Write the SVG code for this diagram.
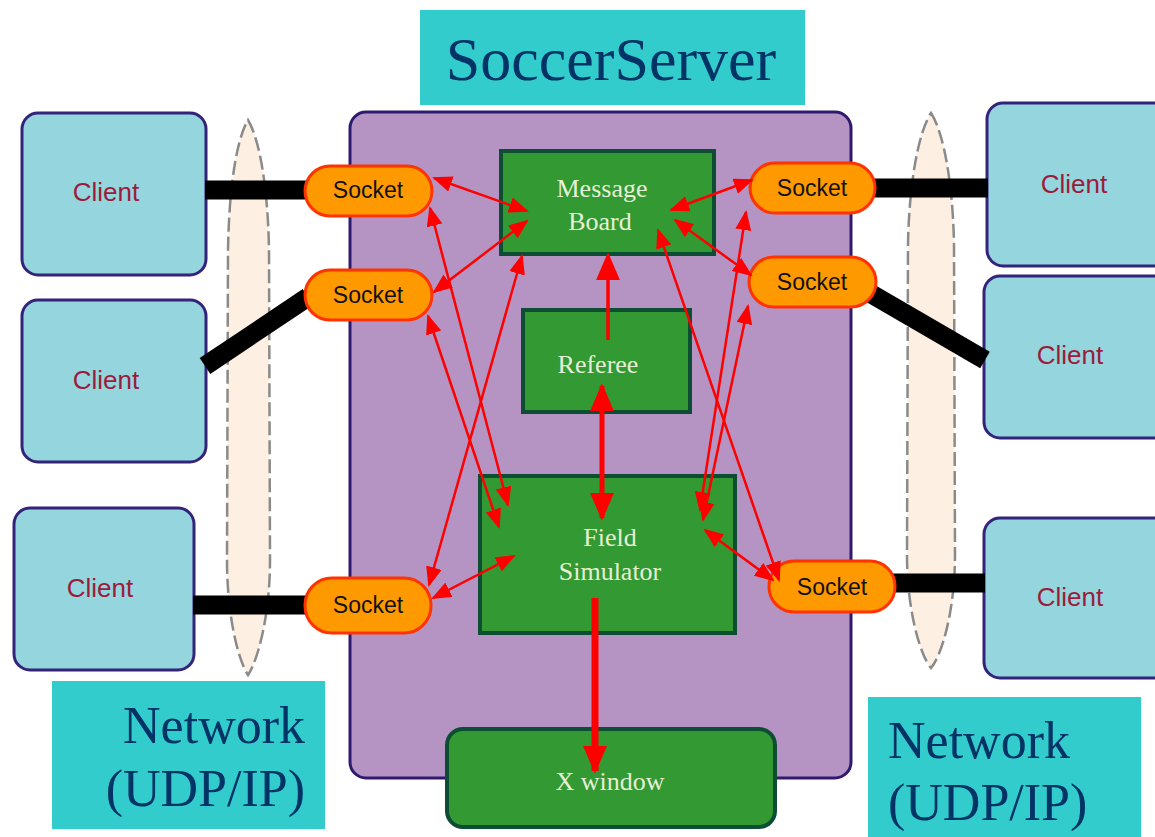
<svg xmlns="http://www.w3.org/2000/svg" width="1155" height="837" viewBox="0 0 1155 837">
<style>
.client{fill:#95D6DE;stroke:#34237A;stroke-width:3}
.ctext{font-family:"Liberation Sans",Arial,sans-serif;font-size:26px;fill:#9B1C3A;text-anchor:middle}
.sock{fill:#FF9900;stroke:#FF3300;stroke-width:3}
.stext{font-family:"Liberation Sans",Arial,sans-serif;font-size:23px;fill:#111;text-anchor:middle}
.gbox{fill:#339933;stroke:#0D4D33;stroke-width:4}
.gtext{font-family:"Liberation Serif","Times New Roman",serif;font-size:26px;fill:#E6F0D6;text-anchor:middle}
.cyan{fill:#33CCCC}
.big{font-family:"Liberation Serif","Times New Roman",serif;fill:#003366}
.net{fill:#FDF0E2;stroke:#8A8A8A;stroke-width:2.5;stroke-dasharray:14 5}
.wire{stroke:#000;stroke-width:19;fill:none}
.ar{stroke:#FF0000;stroke-width:2.5;fill:none;marker-start:url(#ah);marker-end:url(#ah)}
</style>
<defs>
<marker id="ah" viewBox="0 0 10 10" refX="9" refY="5" markerWidth="20" markerHeight="16" markerUnits="userSpaceOnUse" orient="auto-start-reverse" preserveAspectRatio="none">
<path d="M0,0 L10,5 L0,10 Z" fill="#FF0000"/>
</marker>
<marker id="ahb" viewBox="0 0 10 10" refX="9" refY="5" markerWidth="28" markerHeight="24" markerUnits="userSpaceOnUse" orient="auto-start-reverse" preserveAspectRatio="none">
<path d="M0,0 L10,5 L0,10 Z" fill="#FF0000"/>
</marker>
</defs>

<g id="title">
<rect class="cyan" x="420" y="10" width="385" height="95"/>
<text class="big" x="611" y="80" font-size="62" text-anchor="middle">SoccerServer</text>
</g>

<g id="server">
<rect x="350" y="112" width="501" height="666" rx="16" fill="#B594C4" stroke="#2E1A6E" stroke-width="3"/>
</g>

<g id="network-left"><path class="net" d="M248,120 C260,140 268,190 269,250 L270,560 C270,615 258,660 248,675 C238,660 227,615 227,560 L228,250 C229,190 236,140 248,120 Z"/></g>
<g id="network-right"><path class="net" d="M931,113 C944,133 953,185 954,245 L955,555 C955,610 942,655 931,668 C920,655 907,610 907,555 L908,245 C909,185 918,133 931,113 Z"/></g>

<g id="client-l1"><rect class="client" x="22" y="113" width="184" height="162" rx="16"/><text class="ctext" x="106" y="201">Client</text></g>
<g id="client-l2"><rect class="client" x="22" y="300" width="184" height="162" rx="16"/><text class="ctext" x="106" y="389">Client</text></g>
<g id="client-l3"><rect class="client" x="14" y="508" width="180" height="162" rx="16"/><text class="ctext" x="100" y="597">Client</text></g>
<g id="client-r1"><rect class="client" x="987" y="103" width="190" height="163" rx="16"/><text class="ctext" x="1074" y="193">Client</text></g>
<g id="client-r2"><rect class="client" x="984" y="276" width="190" height="162" rx="16"/><text class="ctext" x="1070" y="364">Client</text></g>
<g id="client-r3"><rect class="client" x="984" y="518" width="190" height="160" rx="16"/><text class="ctext" x="1070" y="606">Client</text></g>

<g id="wires">
<line class="wire" x1="205" y1="190" x2="306" y2="190"/>
<line class="wire" x1="205" y1="366" x2="308" y2="297"/>
<line class="wire" x1="193" y1="605" x2="306" y2="605"/>
<line class="wire" x1="874" y1="188" x2="988" y2="188"/>
<line class="wire" x1="868" y1="292" x2="985" y2="360"/>
<line class="wire" x1="893" y1="583" x2="985" y2="583"/>
</g>

<g id="message-board"><rect class="gbox" x="501" y="151" width="213" height="103"/><text class="gtext" x="602" y="197">Message</text><text class="gtext" x="600" y="230">Board</text></g>
<g id="referee"><rect class="gbox" x="523" y="310" width="167" height="102"/><text class="gtext" x="598" y="373">Referee</text></g>
<g id="field-simulator"><rect class="gbox" x="480" y="476" width="255" height="157"/><text class="gtext" x="610" y="546">Field</text><text class="gtext" x="610" y="580">Simulator</text></g>
<g id="x-window"><rect class="gbox" x="447" y="729" width="328" height="98" rx="16"/><text class="gtext" x="610" y="790">X window</text></g>

<g id="socket-l1"><rect class="sock" x="305" y="166" width="127" height="50" rx="25"/><text class="stext" x="368" y="198">Socket</text></g>
<g id="socket-l2"><rect class="sock" x="305" y="270" width="127" height="50" rx="25"/><text class="stext" x="368" y="303">Socket</text></g>
<g id="socket-l3"><rect class="sock" x="305" y="578" width="126" height="55" rx="27"/><text class="stext" x="368" y="613">Socket</text></g>
<g id="socket-r1"><rect class="sock" x="750" y="163" width="125" height="50" rx="25"/><text class="stext" x="812" y="196">Socket</text></g>
<g id="socket-r2"><rect class="sock" x="749" y="257" width="127" height="50" rx="25"/><text class="stext" x="812" y="290">Socket</text></g>
<g id="socket-r3"><rect class="sock" x="769" y="561" width="126" height="51" rx="25"/><text class="stext" x="832" y="595">Socket</text></g>

<g id="connectors">
<line class="ar" x1="434" y1="178" x2="527" y2="211"/>
<line class="ar" x1="434" y1="292" x2="527" y2="221"/>
<line class="ar" x1="430" y1="208" x2="508" y2="505"/>
<line class="ar" x1="428" y1="316" x2="499" y2="527"/>
<line class="ar" x1="522" y1="256" x2="429" y2="585"/>
<line class="ar" x1="433" y1="598" x2="514" y2="556"/>
<line x1="608" y1="340" x2="608" y2="255" stroke="#FF0000" stroke-width="3.5" marker-end="url(#ahb)"/>
<line x1="602" y1="386" x2="602" y2="518" stroke="#FF0000" stroke-width="5" marker-start="url(#ahb)" marker-end="url(#ahb)"/>
<line x1="595" y1="598" x2="595" y2="771" stroke="#FF0000" stroke-width="7" marker-end="url(#ahb)"/>
<line class="ar" x1="752" y1="180" x2="671" y2="210"/>
<line class="ar" x1="751" y1="275" x2="675" y2="220"/>
<line class="ar" x1="746" y1="212" x2="700" y2="510"/>
<line class="ar" x1="748" y1="306" x2="703" y2="520"/>
<line class="ar" x1="658" y1="230" x2="779" y2="580"/>
<line class="ar" x1="705" y1="530" x2="773" y2="580"/>
</g>

<g id="label-network-left">
<rect class="cyan" x="52" y="681" width="273" height="148"/>
<text class="big" x="305" y="743" font-size="52" text-anchor="end">Network</text>
<text class="big" x="305" y="806" font-size="52" text-anchor="end">(UDP/IP)</text>
</g>
<g id="label-network-right">
<rect class="cyan" x="868" y="697" width="273" height="140"/>
<text class="big" x="888" y="758" font-size="52">Network</text>
<text class="big" x="888" y="820" font-size="52">(UDP/IP)</text>
</g>
</svg>
